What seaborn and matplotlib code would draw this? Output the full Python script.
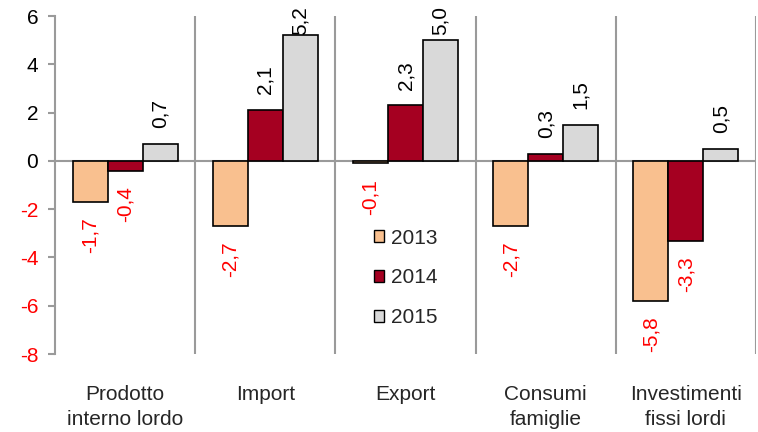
import matplotlib
matplotlib.use('Agg')
import matplotlib.pyplot as plt
import seaborn as sns
import pandas as pd
import numpy as np

####### Data #######
categories = ['Prodotto\ninterno lordo', 'Import', 'Export', 'Consumi\nfamiglie', 'Investimenti\nfissi lordi']
years = ['2013', '2014', '2015']
v2013 = [-1.7, -2.7, -0.1, -2.7, -5.8]
v2014 = [-0.4, 2.1, 2.3, 0.3, -3.3]
v2015 = [0.7, 5.2, 5.0, 1.5, 0.5]
yticks = [6, 4, 2, 0, -2, -4, -6, -8]

colors = ['#F9C08F', '#A50021', '#D9D9D9']
grid_col = '#9A9A9A'
fs = 15

# long format for seaborn
df = pd.DataFrame({
    'cat': categories * 3
    ,'year': [years[0]] * 5 + [years[1]] * 5 + [years[2]] * 5
    ,'val': v2013 + v2014 + v2015})

sns.set_theme(style='white')
plt.rcParams['font.family'] = ['Liberation Sans', 'DejaVu Sans']

fig = plt.figure(figsize=(7.58, 4.32), dpi=100)
ax = fig.add_axes([55/758, 1-354/432, 701/758, 338/432])

sns.barplot(data=df, x='cat', y='val', hue='year', order=categories, hue_order=years
    ,palette=colors, saturation=1, edgecolor='black', linewidth=1.2, width=0.75, ax=ax, zorder=3)

ax.set_xlim(-0.5, len(categories) - 0.5)
ax.set_ylim(-8, 6)

# separators + zero line
for b in np.arange(len(categories)) + 0.5:
    ax.axvline(b, color=grid_col, lw=1.5, zorder=1)
ax.axhline(0, color=grid_col, lw=1.5, zorder=2)

for s in ['top', 'right', 'bottom']:
    ax.spines[s].set_visible(False)
ax.spines['left'].set_color(grid_col)
ax.spines['left'].set_linewidth(1.5)

ax.set_yticks(yticks)
ax.set_yticklabels([str(t) for t in yticks], fontsize=fs)
for lab, t in zip(ax.get_yticklabels(), yticks):
    lab.set_color('red' if t < 0 else 'black')
ax.tick_params(axis='y', direction='out', length=5, width=1.5, color=grid_col, left=True, pad=7)
ax.tick_params(axis='x', length=0, pad=22)
for lab in ax.get_xticklabels():
    lab.set_fontsize(fs)
    lab.set_linespacing(1.4)
ax.set_xlabel('')
ax.set_ylabel('')

# value labels
for cont in ax.containers:
    for p, v in zip(cont.patches, cont.datavalues):
        xc = p.get_x() + p.get_width() / 2
        txt = f'{v:.1f}'.replace('.', ',')
        if v >= 0:
            ax.text(xc, min(v + 0.65, 5.2), txt, rotation=90, ha='center', va='bottom', fontsize=fs, color='black')
        else:
            ax.text(xc, v - 0.65, txt, rotation=90, ha='center', va='top', fontsize=fs, color='red')

handles, labels = ax.get_legend_handles_labels()
leg = ax.legend(handles, labels, loc='center left', bbox_to_anchor=(0.44, 0.225), frameon=False, fontsize=fs
    ,handlelength=0.5, handleheight=0.5, handletextpad=0.3, labelspacing=1.0, borderpad=0)
for h in leg.legend_handles:
    h.set_linewidth(1.0)

fig.savefig('out.png', dpi=100)
